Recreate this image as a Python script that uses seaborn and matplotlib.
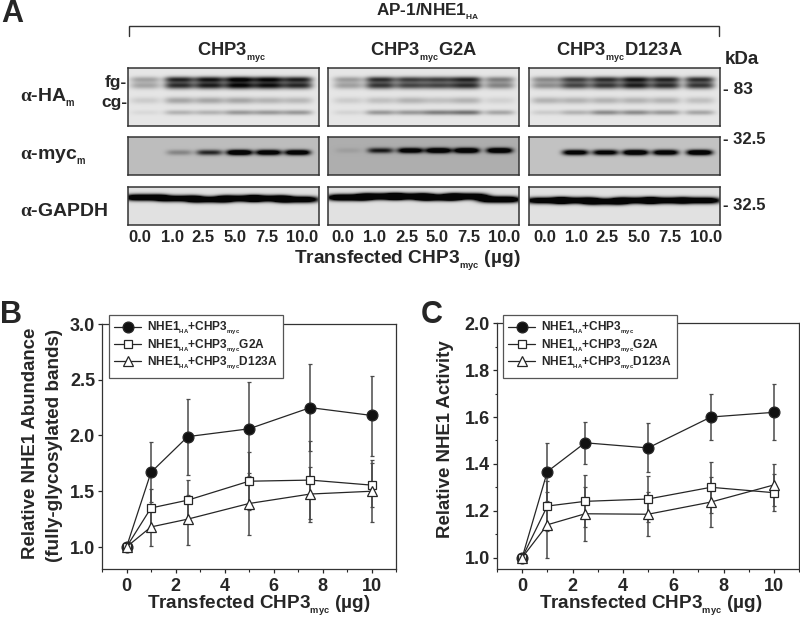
import numpy as np
import pandas as pd
import matplotlib
matplotlib.use("Agg")
import matplotlib.pyplot as plt
import seaborn as sns

sns.set_theme(style="ticks")
plt.rcParams.update({
    "font.family": ["Liberation Sans", "DejaVu Sans"],
    "font.weight": "bold",
    "mathtext.fontset": "custom",
    "mathtext.rm": "Liberation Serif",
    "mathtext.it": "Liberation Serif:italic",
    "mathtext.bf": "Liberation Sans:bold",
    "mathtext.default": "bf",
    "axes.linewidth": 0.9,
})
INK = "#262626"

# ---------- panel B / C data ----------
doses = [0, 1, 2.5, 5, 7.5, 10]
lane_labels = ["0.0", "1.0", "2.5", "5.0", "7.5", "10.0"]

b_wt = [1.00, 1.67, 1.99, 2.06, 2.25, 2.18]
b_wt_lo = [1.00, 1.40, 1.65, 1.64, 1.86, 1.82]
b_wt_hi = [1.00, 1.94, 2.33, 2.48, 2.64, 2.53]
b_g2a = [1.00, 1.35, 1.42, 1.59, 1.60, 1.555]
b_g2a_lo = [1.00, 1.18, 1.24, 1.33, 1.25, 1.36]
b_g2a_hi = [1.00, 1.52, 1.605, 1.85, 1.95, 1.755]
b_d123 = [1.00, 1.18, 1.25, 1.39, 1.475, 1.50]
b_d123_lo = [1.00, 1.01, 1.02, 1.11, 1.225, 1.22]
b_d123_hi = [1.00, 1.35, 1.47, 1.66, 1.72, 1.78]

c_wt = [1.00, 1.367, 1.49, 1.468, 1.60, 1.62]
c_wt_lo = [1.00, 1.243, 1.40, 1.364, 1.50, 1.50]
c_wt_hi = [1.00, 1.488, 1.58, 1.576, 1.70, 1.74]
c_g2a = [1.00, 1.22, 1.24, 1.25, 1.30, 1.277]
c_g2a_lo = [1.00, 1.115, 1.13, 1.15, 1.19, 1.20]
c_g2a_hi = [1.00, 1.325, 1.353, 1.35, 1.41, 1.355]
c_d123 = [1.00, 1.14, 1.187, 1.185, 1.237, 1.31]
c_d123_lo = [1.00, 1.00, 1.07, 1.09, 1.13, 1.22]
c_d123_hi = [1.00, 1.28, 1.30, 1.28, 1.345, 1.40]

legend_labels = [r"NHE1$_{_{HA}}$+CHP3$_{_{myc}}$",
                 r"NHE1$_{_{HA}}$+CHP3$_{_{myc}}$G2A",
                 r"NHE1$_{_{HA}}$+CHP3$_{_{myc}}$D123A"]

# ---------- panel A band densities, per lane ----------
ha_fg = [[.25, .72, .78, .88, .84, .74], [.27, .68, .62, .62, .72, .38], [.34, .62, .68, .78, .72, .68]]
ha_cg1 = [[.10, .25, .25, .25, .20, .18], [.10, .15, .20, .15, .20, .08], [.20, .20, .20, .20, .20, .15]]
ha_cg2 = [[.05, .20, .20, .30, .30, .30], [.07, .30, .30, .40, .45, .25], [.10, .20, .35, .35, .30, .25]]
myc_band = [[.00, .22, .60, 1.1, 1.0, 1.0], [.06, .60, .90, 1.0, 1.0, 1.0], [.00, .95, .90, 1.1, 1.0, 1.1]]
gapdh_band = [[1.5, 1.3, 1.3, 1.4, 1.4, 1.4], [1.6, 1.6, 1.5, 1.5, 1.5, 1.5], [1.3, 1.4, 1.4, 1.4, 1.4, 1.4]]
gapdh_y = [[10, 11, 12, 11, 11, 12], [10, 9, 9, 10, 9, 12], [13, 13, 14, 13, 13, 13]]
lane_x = [[17, 51, 81, 111, 140, 169], [20, 52, 82, 110, 138, 171], [17, 46, 76, 106, 136, 170]]
panel_left = [128, 328, 529]
label_x = [[140, 172, 203, 235, 267, 302], [343, 375, 407, 437, 469, 504], [545, 577, 607, 639, 670, 706]]
blot_bg = [[.90, .90, .90], [.74, .68, .76], [.88, .88, .88]]

PW, PH = 800, 618
fig = plt.figure(figsize=(PW / 100, PH / 100), dpi=100, facecolor="white")


def px_axes(l, t, r, b, **kw):
    return fig.add_axes([l / PW, 1 - b / PH, (r - l) / PW, (b - t) / PH], **kw)


def band_image(w, h, lanes, bands, bg, half):
    """bands: list of (amps, y centres per lane or scalar, sigma)."""
    xx = np.arange(w)[None, :]
    yy = np.arange(h)[:, None]
    img = np.full((h, w), float(bg))
    for amps, yc, sig in bands:
        ycs = np.broadcast_to(yc, (len(lanes),))
        for a, x0, y0 in zip(amps, lanes, ycs):
            env = np.exp(-(np.abs(xx - x0) / half) ** 4)
            img -= a * env * np.exp(-((yy - y0) / sig) ** 2)
    return np.clip(img, 0.02, 1)


def blot(col, t, b, bands, bg, half):
    l = panel_left[col]
    r = l + 191
    ax = px_axes(l, t, r, b)
    img = band_image(r - l, b - t, lane_x[col], bands, bg, half)
    sns.heatmap(pd.DataFrame(img), ax=ax, cmap="gray", vmin=0, vmax=1, cbar=False,
                xticklabels=False, yticklabels=False, rasterized=True)
    ax.tick_params(length=0)
    for s in ax.spines.values():
        s.set_visible(True)
        s.set_linewidth(1.1)
        s.set_color("#333333")


for c in range(3):
    blot(c, 68, 126,
         [(ha_fg[c], 11, 3.0), (ha_fg[c], 17, 3.6),
          (ha_cg1[c], 32, 3.5), (ha_cg2[c], 44, 2.6)], blot_bg[0][c], 15)
    blot(c, 137, 175, [(myc_band[c], 15 if c != 1 else 13, 2.8)], blot_bg[1][c], 13)
    blot(c, 187, 225, [(gapdh_band[c], gapdh_y[c], 3.2)], blot_bg[2][c], 21)

# ---------- overlay in pixel coordinates for panel A text ----------
ov = px_axes(0, 0, PW, PH)
ov.set_xlim(0, PW)
ov.set_ylim(PH, 0)
ov.axis("off")
ov.patch.set_alpha(0)
ov.set_zorder(10)


def T(x, y, s, size=12, ha="center", va="center", **kw):
    return ov.text(x, y, s, fontsize=size, ha=ha, va=va, color=INK, fontweight="bold", **kw)


T(1, 14, "A", 22, ha="left")
T(0, 315, "B", 22, ha="left")
T(421, 315, "C", 22, ha="left")
ov.plot([129, 129, 719, 719], [36, 26, 26, 36], color="#333333", lw=1.0, solid_joinstyle="miter")
T(428, 15, r"AP-1/NHE1$_{_{HA}}$", 12.3, va="baseline")
T(232, 53, r"CHP3$_{_{myc}}$", 13.2)
T(424, 53, r"CHP3$_{_{myc}}$G2A", 13.2)
T(619, 53, r"CHP3$_{_{myc}}$D123A", 13.2)
T(725, 60, "kDa", 13.5, ha="left")
T(723, 90, "- 83", 12.5, ha="left")
T(723, 140, "- 32.5", 12, ha="left")
T(723, 206, "- 32.5", 12, ha="left")
T(127, 82, "fg-", 12.5, ha="right")
T(127, 103, "cg-", 12.5, ha="right")
T(20, 98, r"$\mathrm{\alpha}$-HA$_{_{m}}$", 14, ha="left")
T(20, 157, r"$\mathrm{\alpha}$-myc$_{_{m}}$", 14, ha="left")
T(20, 211, r"$\mathrm{\alpha}$-GAPDH", 14, ha="left")
for xs in label_x:
    for x, s in zip(xs, lane_labels):
        T(x, 237, s, 12)
T(407, 261, r"Transfected CHP3$_{_{myc}}$ (µg)", 13.8)

# y labels and x labels for the graphs
T(31, 443, "Relative NHE1 Abundance", 13.4, rotation=90)
T(55, 445, "(fully-glycosylated bands)", 13.6, rotation=90)
T(445, 439, "Relative NHE1 Activity", 13.4, rotation=90)
T(259, 606, r"Transfected CHP3$_{_{myc}}$ (µg)", 13.6)
T(651, 606, r"Transfected CHP3$_{_{myc}}$ (µg)", 13.6)


def graph(rect, ylim, yticks, yminor, series, legend_box):
    ax = px_axes(*rect)
    styles = [("o", 7.8, "#111111"), ("s", 5.4, "white"), ("^", 7.8, "white")]
    for (vals, lo, hi), (m, ms, fc), lab in zip(series, styles, legend_labels):
        v = np.array(vals)
        ax.errorbar(doses, v, yerr=[v - np.array(lo), np.array(hi) - v], fmt="none",
                    ecolor="#4a4a4a", elinewidth=1.1, capsize=1.6, capthick=0.9, zorder=1.5)
        df = pd.DataFrame({"dose": doses, "value": vals})
        sns.lineplot(data=df, x="dose", y="value", ax=ax, color=INK, lw=0.9, marker=m,
                     markersize=ms, markerfacecolor=fc, markeredgecolor=INK,
                     markeredgewidth=0.9, errorbar=None, label=lab, zorder=3, legend=False)
    ax.set_xlim(-1, 11)
    ax.set_ylim(*ylim)
    ax.set_xlabel("")
    ax.set_ylabel("")
    ax.set_xticks([0, 2, 4, 6, 8, 10])
    ax.set_xticks([-1, 1, 3, 5, 7, 9, 11], minor=True)
    ax.set_yticks(yticks)
    ax.set_yticklabels([f"{t:.1f}" for t in yticks])
    ax.set_yticks(yminor, minor=True)
    ax.tick_params(axis="both", which="major", length=3, width=0.9, labelsize=13,
                   color=INK, labelcolor=INK)
    ax.tick_params(axis="x", which="major", pad=3)
    ax.tick_params(axis="y", which="major", pad=2)
    ax.tick_params(axis="both", which="minor", length=1.8, width=0.8, color=INK)
    for s in ax.spines.values():
        s.set_color("#333333")
    handles, labels = ax.get_legend_handles_labels()
    l, t = legend_box
    leg = ax.legend(handles, labels, loc="upper left",
                    bbox_to_anchor=(l / PW, 1 - t / PH), bbox_transform=fig.transFigure,
                    fontsize=8.6, frameon=True, fancybox=False, framealpha=1,
                    edgecolor="#555555", borderpad=0.45, labelspacing=0.02,
                    handlelength=2.2, handletextpad=0.5, borderaxespad=0)
    leg.get_frame().set_linewidth(0.9)
    leg.set_zorder(6)
    return ax


graph((102, 324, 396, 569.3), (0.8, 3.0), [1, 1.5, 2, 2.5, 3], [],
      [(b_wt, b_wt_lo, b_wt_hi), (b_g2a, b_g2a_lo, b_g2a_hi), (b_d123, b_d123_lo, b_d123_hi)],
      (109, 315))
graph((497, 323.3, 799, 569.3), (0.95, 2.0), [1, 1.2, 1.4, 1.6, 1.8, 2.0], [1.1, 1.3, 1.5, 1.7, 1.9],
      [(c_wt, c_wt_lo, c_wt_hi), (c_g2a, c_g2a_lo, c_g2a_hi), (c_d123, c_d123_lo, c_d123_hi)],
      (503, 315))

fig.savefig("out.png", dpi=100, facecolor="white")
